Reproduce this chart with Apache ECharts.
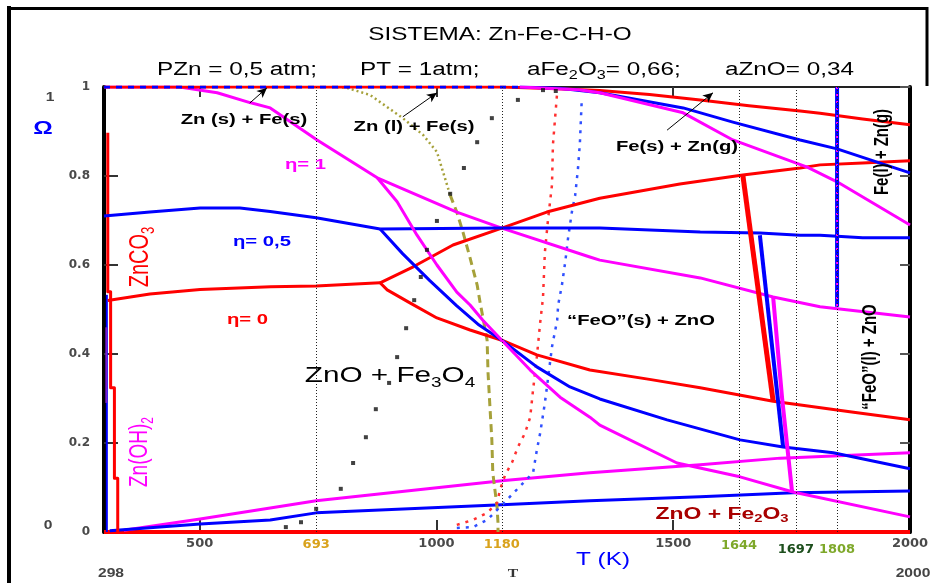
<!DOCTYPE html>
<html><head><meta charset="utf-8">
<script src="https://cdn.jsdelivr.net/npm/echarts@6/dist/echarts.min.js"></script>
<style>html,body{margin:0;padding:0;background:#fff}#c{width:935px;height:583px}</style>
</head><body><div id="c"></div>
<script>
// ---------- DATA (T in K, Omega) ----------
const xTickValues = [500, 1000, 1500, 2000];
const yTickValues = [0, 0.2, 0.4, 0.6, 0.8, 1];
const markTemps = [746, 1138, 1639, 1759, 1846];
const markTempLabels = ['693', '1180', '1644', '1697', '1808'];

// eta = 0 (red)
const redLeft = [[306,0.52],[395,0.535],[501,0.545],[650,0.551],[746,0.553],[881,0.56]];
const redUpper = [[881,0.56],[951,0.596],[1035,0.645],[1138,0.683],[1233,0.719],[1345,0.75],[1514,0.782],[1647,0.802],[1768,0.818],[1810,0.825],[1900,0.829],[2000,0.834]];
const redLower = [[881,0.56],[896,0.544],[944,0.515],[1001,0.481],[1071,0.454],[1138,0.431],[1212,0.398],[1324,0.364],[1450,0.343],[1557,0.324],[1711,0.294],[1873,0.27],[2000,0.252]];
const redTop = [[298,1],[1138,1],[1255,0.996],[1345,0.992],[1450,0.983],[1557,0.971],[1660,0.958],[1768,0.946],[1810,0.941],[1900,0.928],[2000,0.915]];
const redSteep = [[1647,0.802],[1711,0.294]];
const redLeftVert = [[306,0.897],[306,0.54],[312,0.54],[312,0.324],[320,0.324],[320,0.121],[327,0.121],[327,0]];
const redBottom = [[298,0],[2000,0]];
const redDotted = [[1043,0.016],[1077,0.027],[1107,0.043],[1128,0.065],[1134,0.094],[1145,0.128],[1160,0.157],[1172,0.191],[1187,0.222],[1198,0.258],[1204,0.319],[1212,0.393],[1219,0.47],[1225,0.526],[1229,0.629],[1236,0.706],[1244,0.78],[1246,0.87],[1255,0.989]];

// eta = 0.5 (blue)
const blueLeft = [[298,0.71],[395,0.719],[501,0.728],[585,0.728],[649,0.72],[746,0.706],[881,0.681]];
const blueMid = [[881,0.681],[1138,0.683],[1345,0.683],[1557,0.674],[1683,0.672],[1768,0.667],[1810,0.667],[1900,0.661],[2000,0.661]];
const blueLower = [[881,0.681],[929,0.625],[986,0.565],[1043,0.508],[1090,0.465],[1138,0.431],[1212,0.371],[1282,0.326],[1345,0.299],[1487,0.252],[1641,0.207],[1732,0.191],[1838,0.178],[2000,0.142]];
const blueTopFlat = [[298,1],[1176,1]];
const blueTop = [[1176,1],[1260,0.997],[1345,0.987],[1521,0.953],[1626,0.921],[1768,0.881],[1846,0.861],[1937,0.829],[2000,0.807]];
const blueSteep = [[1683,0.667],[1732,0.191]];
const blueVert = [[1846,1],[1846,0.506]];
const blueBottom = [[310,0.003],[501,0.018],[649,0.027],[746,0.043],[1138,0.061],[1324,0.07],[1557,0.079],[1753,0.088],[2000,0.092]];
const blueLeftVert = [[304,0.533],[304,0]];
const purpleLeftVert = [[303,0.46],[303,0.29]];
const blueDotted = [[1043,0.009],[1077,0.011],[1107,0.027],[1134,0.056],[1155,0.079],[1183,0.11],[1204,0.133],[1212,0.184],[1219,0.222],[1229,0.29],[1236,0.348],[1244,0.416],[1255,0.476],[1257,0.51],[1265,0.555],[1272,0.607],[1278,0.661],[1286,0.719],[1293,0.757],[1299,0.818],[1303,0.876],[1307,0.975]];

// eta = 1 (magenta)
const magUpper = [[298,1],[458,1],[537,0.987],[606,0.965],[649,0.953],[748,0.881],[875,0.796],[1043,0.719],[1138,0.683],[1324,0.618],[1345,0.611],[1557,0.571],[1711,0.528],[1810,0.506],[2000,0.483]];
const magLower = [[875,0.796],[917,0.742],[959,0.667],[1001,0.6],[1043,0.539],[1071,0.51],[1098,0.476],[1138,0.431],[1198,0.364],[1261,0.303],[1324,0.258],[1345,0.24],[1508,0.155],[1641,0.124],[1753,0.09],[2000,0.034]];
const magTop = [[1176,1],[1300,0.994],[1345,0.987],[1521,0.942],[1626,0.881],[1783,0.82],[1846,0.787],[2000,0.69]];
const magSteep = [[1711,0.528],[1730,0.3],[1751,0.09]];
const magBottom = [[340,0.004],[501,0.029],[649,0.054],[746,0.07],[1138,0.115],[1324,0.133],[1557,0.151],[1726,0.166],[2000,0.178]];

// Zn(l)/Zn(g) boundary (olive)
const oliveDotted = [[790,1],[811,0.998],[860,0.982],[929,0.93],[972,0.892],[1001,0.854],[1014,0.809],[1029,0.757]];
const oliveDashed = [[1029,0.757],[1043,0.719],[1056,0.674],[1071,0.616],[1086,0.555],[1092,0.517],[1098,0.483],[1107,0.431],[1109,0.357],[1113,0.281],[1117,0.207],[1119,0.133],[1128,0.056],[1130,0.02],[1130,0]];

// black dotted boundary
const blackDots = [[682,0.011],[714,0.022],[746,0.052],[798,0.097],[824,0.155],[851,0.213],[872,0.276],[900,0.335],[917,0.393],[936,0.458],[953,0.521],[967,0.573],[980,0.634],[1001,0.699],[1029,0.76],[1058,0.818],[1086,0.876],[1117,0.93],[1172,0.971],[1225,0.993],[1252,0.991]];

// annotation arrows [from, to]
const arrows = [[[606,0.964],[642,0.998]],[[929,0.933],[1001,0.987]],[[1487,0.903],[1584,0.987]]];

// ---------- STYLE ----------
const RED = '#ff0000', BLUE = '#0000ff', MAG = '#ff00ff', OLIVE = '#a6a13a';
const markColors = ['#d9a21b','#d9a21b','#7ea82a','#1d4f1d','#7ea82a'];
const markDist = [6,6,7,11,11];
const SANS = 'Liberation Sans, Arial, sans-serif';
const SX = 1.35;

function L(data, color, width, type, z) {
  return {type:'line', data, symbol:'none', silent:true, animation:false, z: z || 3,
    lineStyle:{color, width, type: type || 'solid', cap:'butt', join:'round'}};
}

function toRich(s){
  return s.split(/(_\d)/).filter(p => p).map(p => p[0] === '_' ? '{s|' + p.slice(1) + '}' : '{b|' + p + '}').join('');
}
function T(o){
  const fam = o.family || SANS, w = o.weight || 'normal';
  const ss = Math.round(o.size * 0.65);
  return {type:'text', x:o.x, y:o.y, rotation: o.rot ? Math.PI/2 : 0,
    scaleX: o.rot ? 1 : (o.sx || SX), scaleY: o.rot ? (o.sx || SX) : 1, silent:true, z:50,
    style:{legacy:false, text: toRich(o.text), align:o.align || 'center', verticalAlign:'middle', fill:o.color || '#000',
      fontSize:o.size, fontFamily:fam, fontWeight:w,
      rich:{b:{fontSize:o.size, fontFamily:fam, fontWeight:w, fill:o.color || '#000', lineHeight:Math.round(o.size*1.25)},
            s:{fontSize:ss, fontFamily:fam, fontWeight:w, fill:o.color || '#000', lineHeight:ss, verticalAlign:'bottom'}}}};
}

const texts = [
  {text:'SISTEMA: Zn-Fe-C-H-O', x:500, y:35, size:18},
  {text:'PZn = 0,5 atm;', x:157, y:70, size:18, align:'left'},
  {text:'PT = 1atm;', x:360, y:70, size:18, align:'left'},
  {text:'aFe_2O_3= 0,66;', x:527, y:70, size:18, align:'left'},
  {text:'aZnO= 0,34', x:725, y:70, size:18, align:'left'},
  {text:'Ω', x:43, y:129, size:18, weight:'bold', color:BLUE},
  {text:'1', x:50, y:97, size:13, weight:'bold', color:'#444', sx:1.2},
  {text:'0', x:48, y:525, size:13, weight:'bold', color:'#444', sx:1.2},
  {text:'Zn (s) + Fe(s)', x:244, y:120, size:15, weight:'bold'},
  {text:'Zn (l) + Fe(s)', x:414, y:127, size:15, weight:'bold'},
  {text:'Fe(s) + Zn(g)', x:677, y:147, size:15, weight:'bold'},
  {text:'η= 1', x:285, y:165, size:15, weight:'bold', color:MAG, align:'left'},
  {text:'η= 0,5', x:233, y:242, size:15, weight:'bold', color:BLUE, align:'left'},
  {text:'η= 0', x:227, y:320, size:15, weight:'bold', color:RED, align:'left'},
  {text:'ZnCO_3', x:141, y:257, size:20, color:RED, rot:true},
  {text:'Zn(OH)_2', x:140, y:452, size:19, color:MAG, rot:true},
  {text:'ZnO + Fe_3O_4', x:390, y:376, size:22},
  {text:'“FeO”(s) + ZnO', x:641, y:321, size:15, weight:'bold'},
  {text:'Fe(l) + Zn(g)', x:882, y:152, size:15, weight:'bold', rot:true},
  {text:'“FeO”(l) + ZnO', x:870, y:357, size:15, weight:'bold', rot:true},
  {text:'ZnO + Fe_2O_3', x:722, y:514, size:17, weight:'bold', color:'#a80000'},
  {text:'T (K)', x:603, y:560, size:18, color:BLUE},
  {text:'298', x:111, y:573, size:13, weight:'bold', color:'#444', sx:1.2},
  {text:'2000', x:913, y:573, size:13, weight:'bold', color:'#444', sx:1.2},
  {text:'T', x:513, y:574, size:13, weight:'bold', color:'#333', family:'Liberation Serif, serif', sx:1.2}
];

const markLineData = [];
markTemps.forEach((v, i) => {
  const lab = {show:true, position:'start', formatter: markTempLabels[i], color: markColors[i], distance: markDist[i],
    fontFamily:'DejaVu Sans', fontWeight:'bold', fontSize:13};
  markLineData.push([{coord:[v,0], symbol:'none', label:lab}, {coord:[v,1], symbol:'none', label:lab}]);
});
arrows.forEach(a => {
  const st = {color:'#000', width:1, type:'solid'};
  markLineData.push([{coord:a[0], symbol:'none', lineStyle:st, label:{show:false}},
                     {coord:a[1], symbol:'arrow', symbolSize:[7,10], lineStyle:st, label:{show:false}}]);
});

const chart = echarts.init(document.getElementById('c'), null, {renderer:'canvas'});
const axisLabelFont = {fontFamily:'DejaVu Sans', fontWeight:'bold', color:'#4a4a4a'};
chart.setOption({
  animation:false,
  backgroundColor:'#fff',
  grid:{left:104, right:25, top:87, bottom:51, containLabel:false},
  xAxis:[
    {type:'value', min:298, max:2000, position:'bottom',
     axisLine:{show:true, onZero:false, lineStyle:{color:'#000', width:3}},
     axisTick:{show:true, inside:true, length:12, customValues: xTickValues.slice(0,3), lineStyle:{color:'#333', width:2}},
     axisLabel:{show:true, customValues: xTickValues, margin:5, fontSize:13, ...axisLabelFont,
       formatter: v => String(Math.round(v))},
     splitLine:{show:false}},
    {type:'value', min:298, max:2000, position:'top',
     axisLine:{show:true, onZero:false, lineStyle:{color:'#222', width:2}},
     axisTick:{show:true, inside:true, length:10, customValues: xTickValues.slice(0,3), lineStyle:{color:'#333', width:2}},
     axisLabel:{show:false}, splitLine:{show:false}}
  ],
  yAxis:[
    {type:'value', min:0, max:1, interval:0.2, position:'left',
     axisLine:{show:true, onZero:false, lineStyle:{color:'#000', width:4}},
     axisTick:{show:true, inside:true, length:14, lineStyle:{color:'#333', width:2}},
     axisLabel:{show:true, margin:14, fontSize:12, ...axisLabelFont,
       formatter: v => { const t = yTickValues.find(x => Math.abs(x - v) < 1e-9); return t === 0 || t === 1 ? String(t) : t.toFixed(1); }},
     splitLine:{show:false}},
    {type:'value', min:0, max:1, interval:0.2, position:'right',
     axisLine:{show:true, onZero:false, lineStyle:{color:'#000', width:4}},
     axisTick:{show:true, inside:true, length:10, lineStyle:{color:'#555', width:2}},
     axisLabel:{show:false}, splitLine:{show:false}}
  ],
  graphic:[
    {type:'line', shape:{x1:9, y1:6, x2:9, y2:583}, style:{stroke:'#000', lineWidth:4}, silent:true},
    {type:'line', shape:{x1:7, y1:8.5, x2:928, y2:8.5}, style:{stroke:'#000', lineWidth:3}, silent:true},
    {type:'line', shape:{x1:927, y1:7, x2:927, y2:86}, style:{stroke:'#000', lineWidth:3}, silent:true},
    ...texts.map(T)
  ],
  series:[
    L(redBottom, RED, 4),
    L(magBottom, MAG, 3),
    L(blueBottom, BLUE, 3),
    L(redLeftVert, RED, 3),
    L(blueLeftVert, BLUE, 2),
    L(purpleLeftVert, '#7a1fd0', 2),
    L(oliveDotted, OLIVE, 2.5, [2,3]),
    L(oliveDashed, OLIVE, 3, [8,5]),
    L(redDotted, '#ff3030', 2.5, [3,6]),
    L(blueDotted, '#3050ff', 2.5, [3,6]),
    L(magUpper, MAG, 3),
    L(redTop, RED, 3),
    L(blueTopFlat, BLUE, 3, [6,6]),
    L(redLeft, RED, 3),
    L(redUpper, RED, 3),
    L(redLower, RED, 3),
    L(blueLeft, BLUE, 3),
    L(blueMid, BLUE, 3),
    L(blueLower, BLUE, 3),
    L(blueTop, BLUE, 3),
    L(magLower, MAG, 3),
    L(magTop, MAG, 3),
    L(magSteep, MAG, 4),
    L(redSteep, RED, 5),
    L(blueSteep, BLUE, 4),
    L(blueVert, BLUE, 4),
    L(blueVert, MAG, 2, [2,5]),
    {type:'scatter', data:blackDots, symbol:'rect', symbolSize:4, itemStyle:{color:'#111'}, silent:true, animation:false, z:5, clip:false,
     markLine:{silent:true, animation:false, symbol:['none','none'], precision:4,
       lineStyle:{color:'#222', width:1, type:[1,2]}, label:{show:false}, data: markLineData}}
  ]
});
</script></body></html>
